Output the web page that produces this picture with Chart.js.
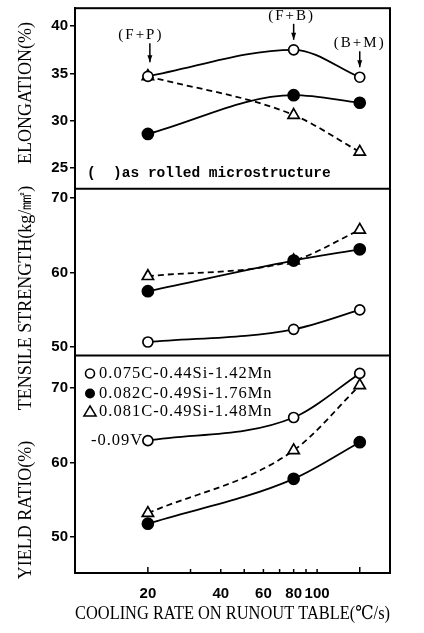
<!DOCTYPE html>
<html>
<head>
<meta charset="utf-8">
<script src="https://cdn.jsdelivr.net/npm/chart.js@4/dist/chart.umd.min.js"></script>
<style>
  html, body { margin: 0; padding: 0; background: #fff; }
  #wrap { width: 424px; height: 633px; position: relative; }
</style>
</head>
<body>
<div id="wrap"><canvas id="chart"></canvas></div>
<script>
// cooling rate on runout table (C/s)
const coolingRates = [20, 80, 150];

// elongation (%)
const elongOpen   = [34.7, 37.5, 34.6];
const elongFilled = [28.6, 32.7, 31.9];
const elongTri    = [34.7, 30.6, 26.7];

// tensile strength (kg/mm2)
const tensileOpen   = [50.7, 52.4, 55.0];
const tensileFilled = [57.5, 61.6, 63.1];
const tensileTri    = [59.5, 61.6, 65.7];

// yield ratio (%)
const yieldOpen   = [62.9, 66.0, 71.9];
const yieldFilled = [51.8, 57.8, 62.7];
const yieldTri    = [53.2, 61.6, 70.3];

const xTickValues = [20, 30, 40, 50, 60, 70, 80, 90, 100, 150];
const xTickLabels = [20, 40, 60, 80, 100];
const elongTicks   = [25, 30, 35, 40];
const tensileTicks = [50, 60, 70];
const yieldTicks   = [50, 60, 70];

const steels = ['0.075C-0.44Si-1.42Mn', '0.082C-0.49Si-1.76Mn', '0.081C-0.49Si-1.48Mn', '-0.09V'];
const structures = ['(F+P)', '(F+B)', '(B+M)'];

const serif = '"Liberation Serif", "DejaVu Serif", serif';
const tickFont = { family: '"Liberation Sans", Arial, sans-serif', size: 15, weight: 'bold' };

function pts(values) {
  return coolingRates.map((x, i) => ({ x: x, y: values[i] }));
}

function serie(values, axis, kind) {
  const base = {
    data: pts(values),
    yAxisID: axis,
    borderColor: '#000',
    borderWidth: 1.8,
    cubicInterpolationMode: 'monotone',
    pointBorderColor: '#000',
    pointBorderWidth: 1.7
  };
  if (kind === 'open') {
    return Object.assign(base, { pointStyle: 'circle', pointRadius: 5, pointBackgroundColor: '#fff' });
  }
  if (kind === 'filled') {
    return Object.assign(base, { pointStyle: 'circle', pointRadius: 5.5, pointBackgroundColor: '#000' });
  }
  return Object.assign(base, { pointStyle: 'triangle', pointRadius: 6.5, pointBackgroundColor: '#fff', borderDash: [6, 4] });
}

function yScale(min, max, weight, ticks) {
  return {
    type: 'linear',
    position: 'left',
    stack: 'panels',
    stackWeight: weight,
    min: min,
    max: max,
    afterFit: s => {
      s.width = 75;
      s.paddingTop = 0;
      s.paddingBottom = 0;
    },
    afterBuildTicks: s => { s.ticks = ticks.map(v => ({ value: v })); },
    ticks: { color: '#000', font: tickFont, padding: 2 },
    grid: { drawOnChartArea: false, color: '#000', tickLength: 5, lineWidth: 1.5 },
    border: { display: true, color: '#000', width: 2 }
  };
}

// frame, inner x ticks, annotations, legend and rotated titles
const decor = {
  id: 'decor',
  afterDraw(chart) {
    const { ctx, chartArea: a, scales } = chart;
    const x = scales.x;
    ctx.save();
    ctx.strokeStyle = '#000';
    ctx.fillStyle = '#000';
    ctx.lineWidth = 2;
    ctx.strokeRect(a.left, a.top, a.right - a.left, a.bottom - a.top);
    [scales.yElong.bottom, scales.yTensile.bottom].forEach(y => {
      ctx.beginPath(); ctx.moveTo(a.left, y); ctx.lineTo(a.right, y); ctx.stroke();
    });

    ctx.lineWidth = 1.5;
    xTickValues.forEach(v => {
      const px = x.getPixelForValue(v);
      const len = (v === 20 || v === 150) ? 6 : 4;
      ctx.beginPath(); ctx.moveTo(px, a.bottom); ctx.lineTo(px, a.bottom - len); ctx.stroke();
    });

    // microstructure arrows above the open circles
    const ye = scales.yElong;
    ctx.font = '15px ' + serif;
    ctx.letterSpacing = '2px';
    ctx.textAlign = 'center';
    ctx.textBaseline = 'middle';
    const shift = [-9, -2, 0];
    const gap = [14, 10, 10];
    const len = [19, 16, 16];
    structures.forEach((s, i) => {
      const px = x.getPixelForValue(coolingRates[i]) + (i === 0 ? 2 : 0);
      const tip = ye.getPixelForValue(elongOpen[i]) - gap[i];
      const top = tip - len[i];
      ctx.beginPath(); ctx.moveTo(px, top); ctx.lineTo(px, tip); ctx.stroke();
      ctx.beginPath(); ctx.moveTo(px - 2.5, tip - 7); ctx.lineTo(px + 2.5, tip - 7); ctx.lineTo(px, tip); ctx.closePath(); ctx.fill();
      ctx.fillText(s, px + shift[i], top - 8);
    });
    ctx.letterSpacing = '0px';
    ctx.textAlign = 'left';
    ctx.font = 'bold 14.5px "Liberation Mono", "DejaVu Sans Mono", monospace';
    ctx.fillText('(  )as rolled microstructure', 87, ye.bottom - 15);

    // legend inside yield ratio panel
    const yy = scales.yYield;
    ctx.font = '16.5px ' + serif;
    ctx.letterSpacing = '1px';
    const rows = [yy.top + 18, yy.top + 38, yy.top + 56, yy.top + 85];
    const sx = 90;
    ctx.lineWidth = 1.6;
    ctx.beginPath(); ctx.arc(sx, rows[0], 4.5, 0, Math.PI * 2); ctx.stroke();
    ctx.beginPath(); ctx.arc(sx, rows[1], 5, 0, Math.PI * 2); ctx.fill();
    ctx.beginPath(); ctx.moveTo(sx, rows[2] - 5.5); ctx.lineTo(sx + 6, rows[2] + 4.5); ctx.lineTo(sx - 6, rows[2] + 4.5); ctx.closePath(); ctx.stroke();
    steels.forEach((t, i) => {
      ctx.fillText(t, i < 3 ? sx + 9 : sx + 1, rows[i]);
    });
    ctx.letterSpacing = '0px';

    // rotated axis titles
    ctx.font = '18px ' + serif;
    ctx.textAlign = 'center';
    const titles = [
      ['ELONGATION(%)', 93],
      ['TENSILE STRENGTH(kg/\u339F)', 298],
      ['YIELD RATIO(%)', 510]
    ];
    titles.forEach(([t, cy]) => {
      ctx.save();
      ctx.translate(26, cy);
      ctx.rotate(-Math.PI / 2);
      ctx.fillText(t, 0, 0);
      ctx.restore();
    });
    ctx.restore();
  }
};

new Chart(document.getElementById('chart'), {
  type: 'line',
  data: {
    datasets: [
      serie(elongOpen, 'yElong', 'open'),
      serie(elongFilled, 'yElong', 'filled'),
      serie(elongTri, 'yElong', 'tri'),
      serie(tensileOpen, 'yTensile', 'open'),
      serie(tensileFilled, 'yTensile', 'filled'),
      serie(tensileTri, 'yTensile', 'tri'),
      serie(yieldOpen, 'yYield', 'open'),
      serie(yieldFilled, 'yYield', 'filled'),
      serie(yieldTri, 'yYield', 'tri')
    ]
  },
  options: {
    responsive: true,
    maintainAspectRatio: false,
    animation: false,
    layout: { padding: { top: 7, right: 34, left: 0, bottom: 0 } },
    plugins: { legend: { display: false }, tooltip: { enabled: false } },
    scales: {
      x: {
        type: 'logarithmic',
        min: 10,
        max: 200,
        afterFit: s => { s.height = 60; },
        afterBuildTicks: s => { s.ticks = xTickValues.map(v => ({ value: v })); },
        ticks: {
          autoSkip: false,
          maxRotation: 0,
          padding: 12,
          color: '#000',
          font: tickFont,
          callback: v => xTickLabels.includes(v) ? String(v) : ''
        },
        grid: { display: false, drawTicks: false },
        border: { display: true, color: '#000', width: 2 },
        title: {
          display: true,
          text: 'COOLING RATE ON RUNOUT TABLE(\u2103/s)',
          color: '#000',
          font: { family: serif, size: 19 },
          padding: { top: 0, bottom: 8 }
        }
      },
      // stacked scales are laid out bottom-up
      yYield: yScale(45.2, 74.3, 218, yieldTicks),
      yTensile: yScale(48.9, 71.2, 167, tensileTicks),
      yElong: yScale(22.8, 41.9, 181, elongTicks)
    }
  },
  plugins: [decor]
});
</script>
</body>
</html>
